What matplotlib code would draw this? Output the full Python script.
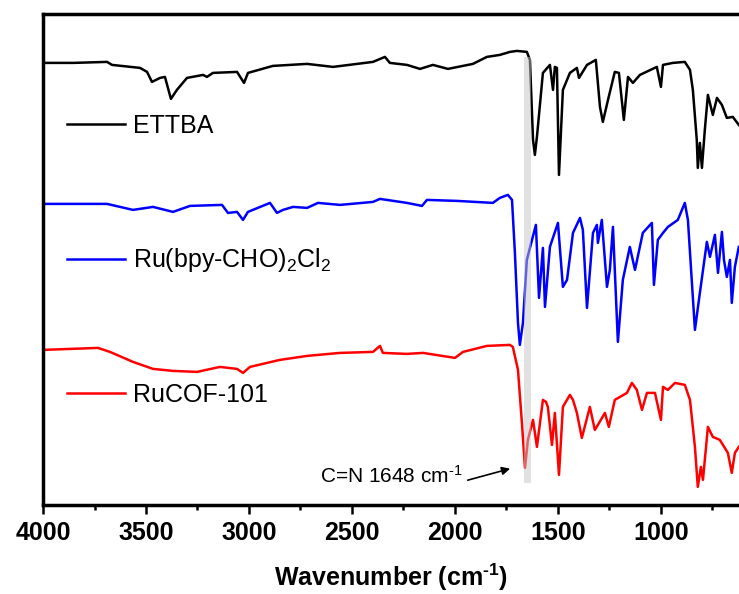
"""FTIR spectra of ETTBA, Ru(bpy-CHO)2Cl2 and RuCOF-101 (stacked, arbitrary units)."""

import matplotlib

matplotlib.use("Agg")
import matplotlib.pyplot as plt
from matplotlib.ticker import MultipleLocator

# ---- data (wavenumber in cm-1, intensity in a.u., stacked) ----
ettba_wn = [4000, 3854, 3689, 3665, 3529, 3495, 3471, 3432, 3408, 3379, 3350, 3301,
            3223, 3204, 3175, 3058, 3024, 3005, 2884, 2718, 2592, 2398, 2340, 2316,
            2233, 2170, 2107, 2034, 1913, 1845, 1782, 1733, 1699, 1651, 1636, 1621,
            1612, 1602, 1573, 1539, 1524, 1515, 1505, 1495, 1476, 1442, 1408, 1398,
            1359, 1316, 1296, 1282, 1257, 1224, 1204, 1180, 1160, 1136, 1102, 1020,
            1000, 990, 942, 884, 859, 845, 826, 821, 811, 801, 787, 772, 748, 728,
            704, 680, 651, 622]
ettba_t = [442, 442, 443, 440, 437, 433, 423, 427, 428, 406, 415, 427,
           430, 428, 432, 433, 422, 432, 439, 441, 438, 443, 448, 442,
           440, 436, 440, 436, 441, 448, 450, 453, 454, 453, 445, 365,
           350, 368, 432, 440, 415, 438, 437, 330, 415, 432, 437, 427,
           440, 445, 398, 383, 405, 433, 432, 385, 428, 422, 430, 438,
           418, 440, 442, 443, 435, 415, 365, 337, 362, 337, 375, 410, 390, 407,
           400, 387, 388, 380]

ru_wn = [4000, 3689, 3563, 3466, 3369, 3286, 3131, 3102, 3058, 3029, 3005, 2898,
         2864, 2835, 2786, 2718, 2665, 2558, 2398, 2364, 2233, 2160, 2136, 1990,
         1816, 1782, 1743, 1723, 1709, 1694, 1685, 1670, 1651, 1626, 1607, 1592,
         1573, 1563, 1539, 1500, 1476, 1456, 1427, 1393, 1379, 1359, 1330, 1311,
         1306, 1287, 1262, 1248, 1233, 1209, 1185, 1151, 1126, 1088, 1044, 1034,
         1015, 990, 966, 918, 884, 869, 835, 811, 777, 762, 738, 723, 704, 694,
         680, 665, 656, 641, 622]
ru_t = [301, 301, 295, 298, 293, 299, 300, 292, 293, 285, 293, 302,
        292, 295, 298, 297, 302, 300, 303, 306, 302, 299, 305, 304,
        302, 307, 310, 305, 252, 182, 160, 182, 245, 265, 280, 207,
        257, 198, 258, 282, 218, 225, 272, 287, 275, 197, 272, 280,
        262, 285, 218, 235, 278, 163, 225, 258, 235, 272, 282, 220,
        265, 272, 278, 285, 302, 285, 175, 212, 263, 248, 270, 232, 273, 245,
        228, 245, 202, 238, 258]

cof_wn = [4000, 3733, 3675, 3563, 3466, 3369, 3252, 3141, 3058, 3029, 2995, 2850,
          2718, 2558, 2398, 2364, 2350, 2233, 2155, 2000, 1961, 1845, 1733, 1719,
          1694, 1675, 1660, 1646, 1621, 1602, 1573, 1558, 1549, 1529, 1515, 1495,
          1476, 1442, 1427, 1408, 1384, 1345, 1321, 1306, 1272, 1253, 1224, 1165,
          1141, 1117, 1092, 1068, 1029, 1000, 990, 966, 932, 884, 859, 835, 821,
          806, 796, 772, 748, 714, 675, 656, 641, 622]
cof_t = [155, 157, 153, 143, 136, 134, 133, 138, 136, 132, 138, 145,
         149, 152, 153, 159, 152, 151, 152, 147, 153, 159, 160, 158,
         135, 82, 37, 65, 85, 58, 105, 103, 98, 60, 92, 30,
         98, 110, 105, 92, 67, 98, 75, 80, 92, 78, 105, 112,
         122, 115, 95, 112, 112, 85, 118, 115, 122, 120, 105, 58, 18,
         38, 25, 78, 68, 65, 52, 32, 52, 58]

labels = ["ETTBA", r"Ru(bpy-CHO)$_2$Cl$_2$", "RuCOF-101"]
colors = ["black", "#0000ff", "#ff0000"]
cn_band = 1648  # C=N stretch marked on the plot

plt.rcParams.update({
    "font.family": "Liberation Sans",
    "mathtext.fontset": "custom",
    "mathtext.rm": "Liberation Sans",
    "mathtext.it": "Liberation Sans:italic",
    "mathtext.bf": "Liberation Sans:bold",
})

fig = plt.figure(figsize=(7.39, 5.94), dpi=100)
ax = fig.add_axes([0.0582, 0.150, 0.9418, 0.8266])

series = [(ettba_wn, ettba_t), (ru_wn, ru_t), (cof_wn, cof_t)]
for (wn, t), lab, c in zip(series, labels, colors):
    ax.plot(wn, t, color=c, lw=1.8, label=lab, solid_joinstyle="round")

# highlight of the C=N band, drawn over the traces
ax.axvspan(cn_band + 15, cn_band - 15, ymin=0.045, ymax=0.912,
           color="#c4c4c4", alpha=0.5, lw=0, zorder=3)

ax.text(1961, 22, r"C=N %d cm$^{\text{-1}}$" % cn_band, fontsize=15, ha="right",
        va="baseline")
ax.annotate("", xy=(1719, 37), xytext=(1951, 24),
            arrowprops=dict(arrowstyle="-|>", color="black", lw=1.2, mutation_scale=12))

ax.set_xlim(4000, 621)
ax.set_ylim(0, 491)
ax.xaxis.set_major_locator(MultipleLocator(500))
ax.xaxis.set_minor_locator(MultipleLocator(250))
ax.tick_params(axis="x", which="major", direction="out", length=6.5, width=1.8, pad=5,
               labelsize=18, top=False)
ax.tick_params(axis="x", which="minor", direction="out", length=3.5, width=1.8, top=False)
ax.set_yticks([])
for lbl in ax.get_xticklabels():
    lbl.set_fontweight("bold")
for side in ("left", "top", "bottom"):
    ax.spines[side].set_linewidth(2.5)
ax.spines["right"].set_visible(False)

ax.set_xlabel("Wavenumber (cm$^{\\mathbf{\u20101}}$)", fontsize=18, fontweight="bold",
              labelpad=12)

ax.legend(loc="upper left", bbox_to_anchor=(0.0345, 0.797), frameon=False, fontsize=18,
          handlelength=2.3, handletextpad=0.32, labelspacing=4.35, borderpad=0,
          borderaxespad=0)

fig.savefig("out.png", dpi=100)
